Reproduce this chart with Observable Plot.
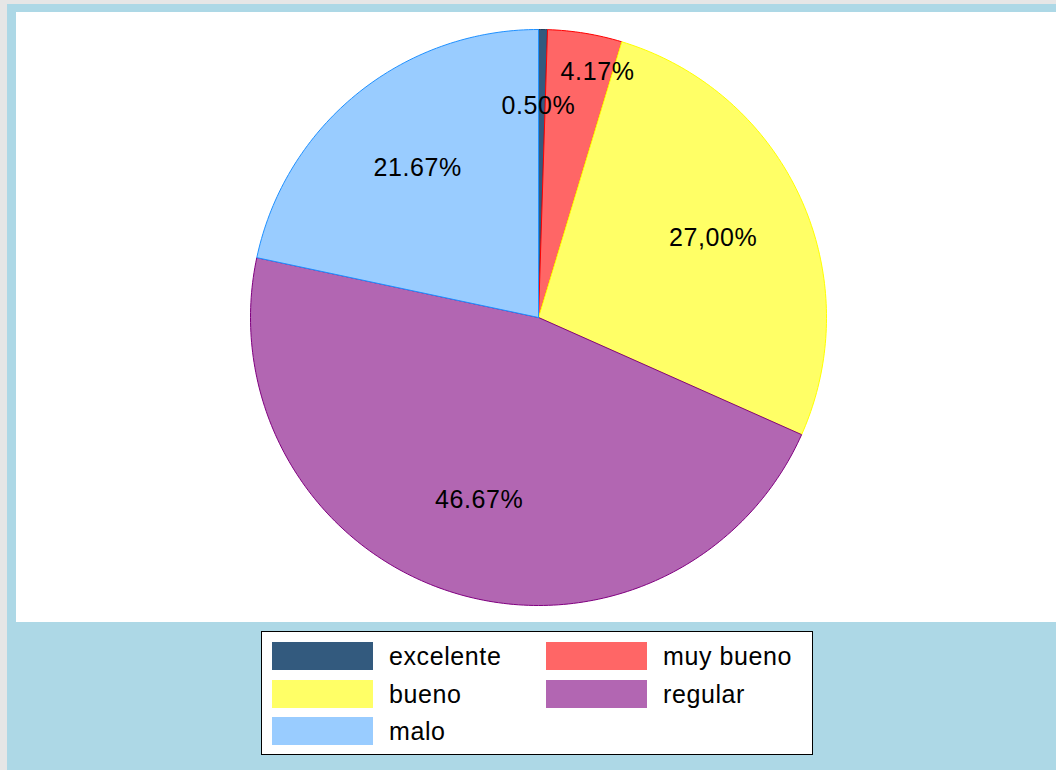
<!DOCTYPE html>
<html>
<head>
<meta charset="utf-8">
<script src="https://cdn.jsdelivr.net/npm/d3@7"></script>
<script src="https://cdn.jsdelivr.net/npm/@observablehq/plot@0.6"></script>
<style>
  html, body { margin: 0; padding: 0; background: #e6e6e6; overflow: hidden; }
  #fig { position: absolute; left: 7px; top: 4px; width: 1100px; height: 800px; background: #ADD8E6; }
  #panel { position: absolute; left: 9px; top: 8px; width: 1100px; height: 610px; background: #ffffff; }
  #legend { position: absolute; left: 254px; top: 627px; width: 550px; height: 122px; background: #fff; border: 1px solid #000;
            font-family: "Liberation Sans", Arial, sans-serif; font-size: 25px; letter-spacing: 0.6px; color: #000; }
  .item { position: absolute; height: 28px; }
  .sw { position: absolute; left: 0; top: 0; width: 101px; height: 28px; }
  .lb { position: absolute; left: 117px; top: 0px; line-height: 28px; white-space: nowrap; }
</style>
</head>
<body>
<div id="fig">
  <div id="panel"></div>
  <div id="legend"></div>
</div>
<script>
// ---- data ----
const categories = ["excelente", "muy bueno", "bueno", "regular", "malo"];
const values = [0.50, 4.17, 27.00, 46.67, 21.67];
const labels = ["0.50%", "4.17%", "27,00%", "46.67%", "21.67%"];
const fills = ["#335A7E", "#FF6666", "#FFFF66", "#B266B2", "#99CCFF"];
const strokes = ["#1F3F5F", "#FF0000", "#FFFF00", "#800080", "#1E90FF"];
const legendOrder = ["excelente", "muy bueno", "bueno", "regular", "malo"];
// label placement tweaks (relative radius, angular shift in degrees)
const labelRadius = [0.736, 0.878, 0.667, 0.667, 0.667];
const labelShift = [-0.9, 4.2, 0, 0, 0];

// ---- geometry from values ----
const total = d3.sum(values);
let acc = 0;
const slices = categories.map((c, i) => {
  const a0 = acc / total * 2 * Math.PI;
  acc += values[i];
  const a1 = acc / total * 2 * Math.PI;
  return {cat: c, i, a0, a1};
});
function arcPoints(s) {
  const n = Math.max(4, Math.ceil((s.a1 - s.a0) / (Math.PI / 180)));
  const pts = [{x: 0, y: 0}];
  for (let k = 0; k <= n; k++) {
    const a = s.a0 + (s.a1 - s.a0) * k / n;
    pts.push({x: Math.sin(a), y: Math.cos(a)});
  }
  pts.push({x: 0, y: 0});
  return pts;
}
const labelData = slices.map(s => {
  const a = (s.a0 + s.a1) / 2 + labelShift[s.i] * Math.PI / 180;
  const r = labelRadius[s.i];
  return {x: r * Math.sin(a), y: r * Math.cos(a), text: labels[s.i]};
});

const cx = 522, cy = 305, R = 288;
const chart = Plot.plot({
  width: 1040,
  height: 610,
  margin: 0,
  style: {background: "transparent", overflow: "visible"},
  x: {domain: [-1, 1], range: [cx - R, cx + R], axis: null},
  y: {domain: [-1, 1], range: [cy + R, cy - R], axis: null},
  marks: [
    ...slices.map(s => Plot.line(arcPoints(s), {
      x: "x", y: "y", fill: fills[s.i], stroke: strokes[s.i], strokeWidth: 1, curve: "linear-closed"
    })),
    Plot.text(labelData, {
      x: "x", y: "y", text: "text", fill: "#000", fontSize: 25,
      fontFamily: "Liberation Sans, Arial, sans-serif", textAnchor: "middle",
      style: {letterSpacing: "0.6px"}
    })
  ]
});
chart.querySelectorAll("text").forEach(t => t.style.letterSpacing = "0.6px");
document.getElementById("panel").appendChild(chart);

// ---- legend ----
const legend = document.getElementById("legend");
legendOrder.forEach((c, k) => {
  const i = categories.indexOf(c);
  const col = k % 2, row = Math.floor(k / 2);
  const it = document.createElement("div");
  it.className = "item";
  it.style.left = (10 + col * 274) + "px";
  it.style.top = (10 + row * 37.5) + "px";
  it.innerHTML = `<div class="sw" style="background:${fills[i]}"></div><div class="lb">${c}</div>`;
  legend.appendChild(it);
});
</script>
</body>
</html>
